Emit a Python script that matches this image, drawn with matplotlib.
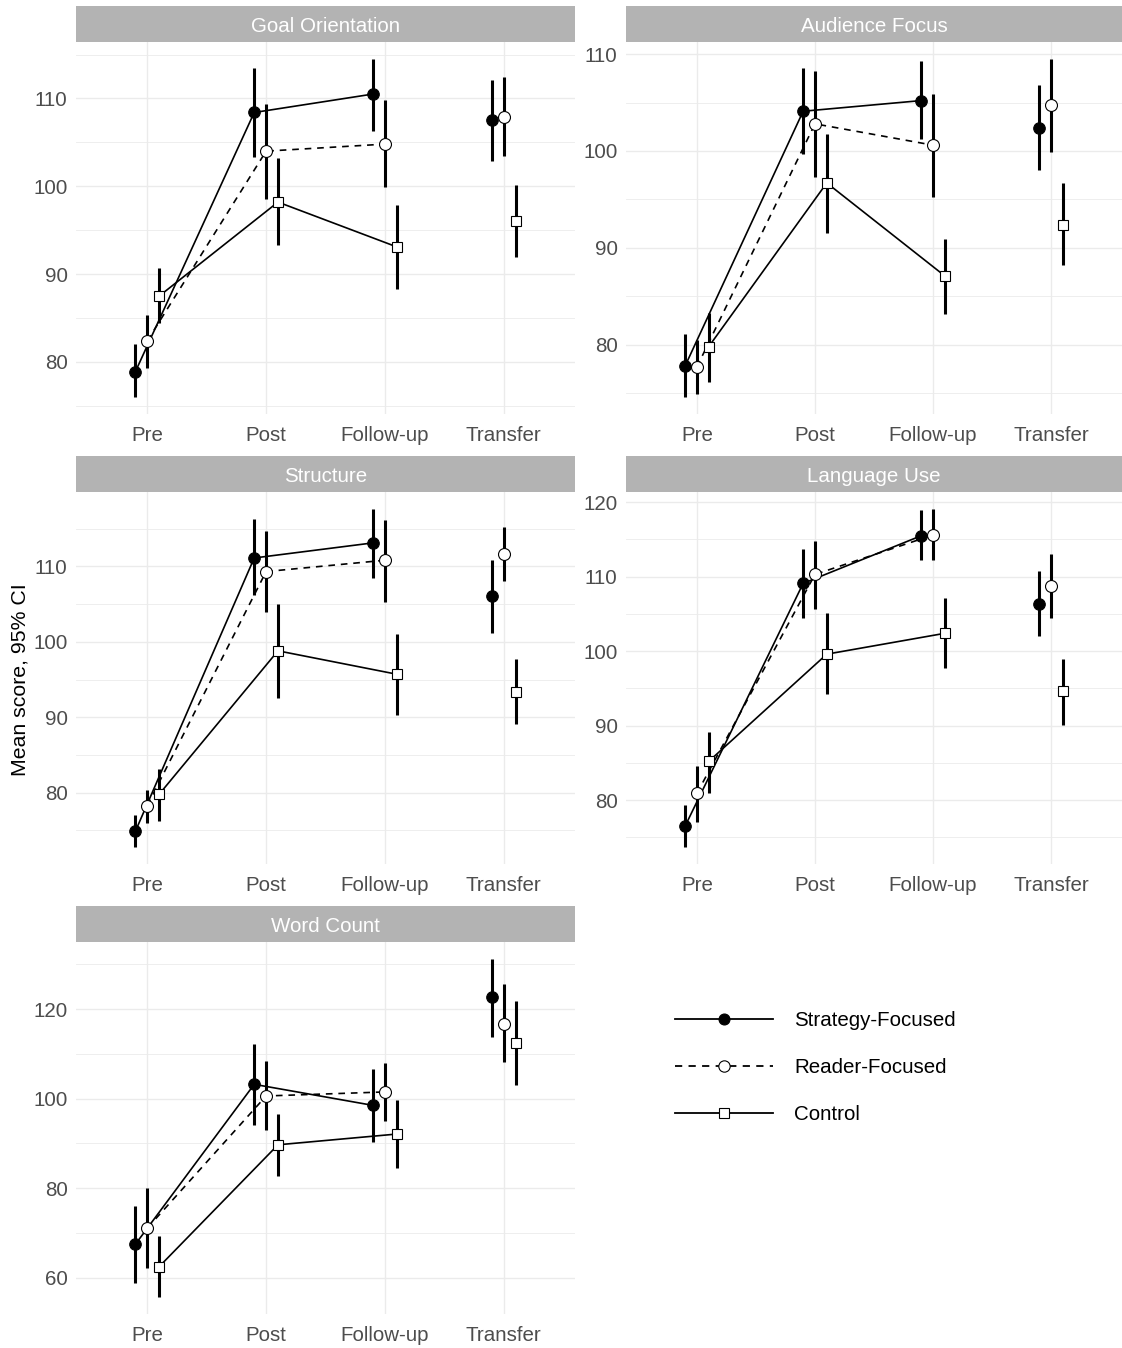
import numpy as np
import matplotlib.pyplot as plt
from matplotlib.lines import Line2D
from matplotlib.patches import Rectangle
from matplotlib.ticker import MultipleLocator

plt.rcParams['font.family'] = ['Liberation Sans', 'DejaVu Sans']

times = ['Pre', 'Post', 'Follow-up', 'Transfer']
groups = ['Strategy-Focused', 'Reader-Focused', 'Control']
panels = ['Goal Orientation', 'Audience Focus', 'Structure', 'Language Use', 'Word Count']

# rows: Strategy-Focused, Reader-Focused, Control ; cols: Pre, Post, Follow-up, Transfer
goal_mean = [[78.9, 108.4, 110.5, 107.5], [82.4, 104.0, 104.8, 107.9], [87.5, 98.2, 93.1, 96.0]]
goal_lo = [[76.0, 103.3, 106.3, 102.9], [79.3, 98.5, 99.9, 103.5], [84.4, 93.3, 88.3, 91.9]]
goal_hi = [[82.0, 113.5, 114.5, 112.1], [85.4, 109.4, 109.8, 112.4], [90.7, 103.2, 97.9, 100.2]]

audience_mean = [[77.8, 104.1, 105.2, 102.4], [77.7, 102.8, 100.6, 104.7], [79.8, 96.7, 87.1, 92.4]]
audience_lo = [[74.6, 99.7, 101.2, 98.0], [74.9, 97.3, 95.3, 99.9], [76.2, 91.5, 83.2, 88.2]]
audience_hi = [[81.1, 108.6, 109.3, 106.8], [80.5, 108.3, 105.9, 109.5], [83.3, 101.8, 90.9, 96.7]]

structure_mean = [[74.9, 111.1, 113.1, 106.0], [78.3, 109.3, 110.8, 111.6], [79.8, 98.8, 95.7, 93.4]]
structure_lo = [[72.8, 106.2, 108.4, 101.2], [76.0, 104.0, 105.3, 108.1], [76.2, 92.6, 90.3, 89.1]]
structure_hi = [[77.1, 116.2, 117.6, 110.8], [80.4, 114.7, 116.1, 115.2], [83.2, 105.0, 101.0, 97.7]]

language_mean = [[76.5, 109.1, 115.5, 106.3], [80.9, 110.3, 115.6, 108.8], [85.2, 99.6, 102.4, 94.6]]
language_lo = [[73.7, 104.4, 112.2, 102.1], [77.1, 105.7, 112.2, 104.5], [81.0, 94.2, 97.8, 90.1]]
language_hi = [[79.3, 113.7, 118.9, 110.7], [84.6, 114.8, 119.1, 113.0], [89.1, 105.1, 107.1, 99.0]]

words_mean = [[67.5, 103.2, 98.5, 122.6], [71.1, 100.6, 101.5, 116.6], [62.5, 89.7, 92.1, 112.5]]
words_lo = [[58.8, 94.2, 90.3, 113.8], [62.3, 92.9, 95.1, 108.1], [55.7, 82.8, 84.5, 103.0]]
words_hi = [[76.1, 112.3, 106.6, 131.2], [80.0, 108.3, 108.0, 125.5], [69.4, 96.6, 99.8, 121.9]]

panel_data = [
    (goal_mean, goal_lo, goal_hi),
    (audience_mean, audience_lo, audience_hi),
    (structure_mean, structure_lo, structure_hi),
    (language_mean, language_lo, language_hi),
    (words_mean, words_lo, words_hi),
]
y_steps = [10, 10, 10, 10, 20]

W, H = 1122, 1348
fig = plt.figure(figsize=(W / 100, H / 100), dpi=100)

# panel boxes in pixels: left, top, right, bottom
boxes = [(76, 42, 575, 414), (626, 42, 1122, 414),
         (76, 492, 575, 864), (626, 492, 1122, 864),
         (76, 942, 575, 1314)]

offsets = [-0.1, 0.0, 0.1]
styles = [dict(ls='-', marker='o', mfc='black', ms=8.3),
          dict(ls=(0, (4, 3.5)), marker='o', mfc='white', ms=8.6),
          dict(ls='-', marker='s', mfc='white', ms=7.4)]
txt_col = '#4D4D4D'
grid_col = '#EBEBEB'
fs = 14.8

for name, (means, los, his), step, (l, t, r, b) in zip(panels, panel_data, y_steps, boxes):
    ax = fig.add_axes([l / W, 1 - b / H, (r - l) / W, (b - t) / H])
    x = np.arange(len(times))
    for g in range(len(groups)):
        st = styles[g]
        xs = x + offsets[g]
        ax.plot(xs[:3], means[g][:3], color='black', lw=1.2, ls=st['ls'], zorder=2)
        ax.vlines(xs, los[g], his[g], color='black', lw=2.2, zorder=3)
        ax.plot(xs, means[g], ls='none', marker=st['marker'], ms=st['ms'],
                mfc=st['mfc'], mec='black', mew=0.8, zorder=4)
    lo_all = np.min(los)
    hi_all = np.max(his)
    pad = (hi_all - lo_all) * 0.05
    ax.set_ylim(lo_all - pad, hi_all + pad)
    ax.set_xlim(-0.6, 3.6)
    ax.set_xticks(x)
    ax.set_xticklabels(times)
    ax.yaxis.set_major_locator(MultipleLocator(step))
    ax.yaxis.set_minor_locator(MultipleLocator(step / 2))
    ax.grid(which='major', color=grid_col, lw=1.0, zorder=0)
    ax.grid(which='minor', axis='y', color=grid_col, lw=0.6, zorder=0)
    ax.set_axisbelow(True)
    for s in ax.spines.values():
        s.set_visible(False)
    ax.tick_params(which='both', length=0, labelsize=fs, labelcolor=txt_col)
    ax.tick_params(axis='x', pad=8.5)
    ax.tick_params(axis='y', pad=6)

    # facet strip
    fig.add_artist(Rectangle((l / W, 1 - t / H), (r - l) / W, 36 / H,
                             transform=fig.transFigure, facecolor='#B3B3B3',
                             edgecolor='none'))
    fig.text((l + r) / 2 / W, 1 - (t - 16) / H, name, color='white',
             ha='center', va='center', size=fs)

fig.text(20 / W, 1 - 680 / H, 'Mean score, 95% CI', rotation=90,
         ha='center', va='center', size=15.3, color='black')

handles = [Line2D([], [], color='black', lw=1.3, ls=st['ls'], marker=st['marker'],
                  ms=st['ms'] * 0.95, mfc=st['mfc'], mec='black', mew=0.8)
           for st in styles]
fig.legend(handles, groups, loc='upper left', bbox_to_anchor=(675 / W, 1 - 1011 / H),
           frameon=False, borderpad=0, borderaxespad=0, handlelength=4.75,
           handletextpad=1.05, labelspacing=1.36, fontsize=fs, numpoints=1)

fig.savefig('out.png', dpi=100)
